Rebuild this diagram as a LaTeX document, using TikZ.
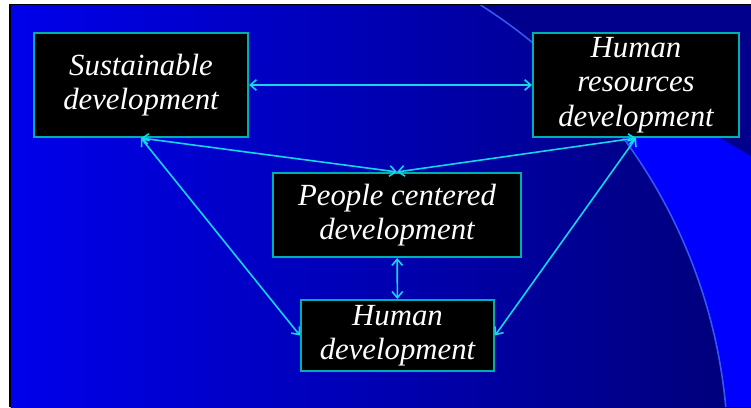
\documentclass[tikz,border=0pt]{standalone}
\usepackage{fontspec}
\setmainfont{Liberation Serif}
\usetikzlibrary{arrows.meta}
\definecolor{slideleft}{RGB}{0,0,235}
\definecolor{slidemid}{RGB}{0,0,200}
\definecolor{slideright}{RGB}{0,0,120}
\definecolor{slidenavy}{RGB}{0,0,140}
\definecolor{slidebright}{RGB}{0,0,255}
\definecolor{swoosh}{RGB}{55,85,240}
\definecolor{boxedge}{RGB}{0,175,175}
\definecolor{linkcyan}{RGB}{20,215,235}
\tikzset{
	box/.style={draw=boxedge, line width=1.2pt, fill=black, text=white, align=center, inner sep=0pt, font=\itshape\fontsize{17.5}{19.5}\selectfont},
	link/.style={draw=linkcyan, line width=0.9pt, {Straight Barb[length=3.5pt,width=6pt]}-{Straight Barb[length=3.5pt,width=6pt]}}
}

\begin{document}
\begin{tikzpicture}
				\useasboundingbox[fill=white] (0, 0) rectangle (15.02, 8.14);
				
				\shade[left color=slideleft, middle color=slidemid, right color=slideright] (0.21, 0) rectangle (15.02, 8.04);
				\fill[slidenavy] (9.61, 8.04) arc (57.6:42.5:10.66) -- (14.36, 5.40) -- (15.02, 5.02) -- (15.02, 8.04) -- cycle;
				\fill[slidebright] (11.76, 6.24) -- (14.36, 5.40) -- (15.02, 5.02) -- (15.02, 0) -- (14.52, 0) arc (5.17:42.5:10.66) -- cycle;
				\draw[swoosh, line width=0.9pt] (9.61, 8.04) arc (57.6:5.17:10.66);
				
				\draw[black, line width=1.1pt] (0.2, 0) -- (0.2, 8.05) -- (15.02, 8.05);
				
				\node[box, minimum width=4.28cm, minimum height=2.08cm] (sus) at (2.82, 6.44) {Sustainable\\development};
				\node[box, minimum width=4.12cm, minimum height=2.08cm] (hrd) at (12.72, 6.44) {Human\\resources\\development};
				\node[box, minimum width=4.96cm, minimum height=1.68cm] (ppl) at (7.94, 3.84) {People centered\\development};
				\node[box, minimum width=3.86cm, minimum height=1.42cm] (hum) at (7.95, 1.43) {Human\\development};
				
				\draw[link] (sus) -- (hrd);
				\draw[link] (sus.south) -- (ppl.north);
				\draw[link] (hrd.south) -- (ppl.north);
				\draw[link] (sus.south) -- (hum.west);
				\draw[link] (hrd.south) -- (hum.east);
				\draw[link] (ppl) -- (hum);
			\end{tikzpicture}
\end{document}
